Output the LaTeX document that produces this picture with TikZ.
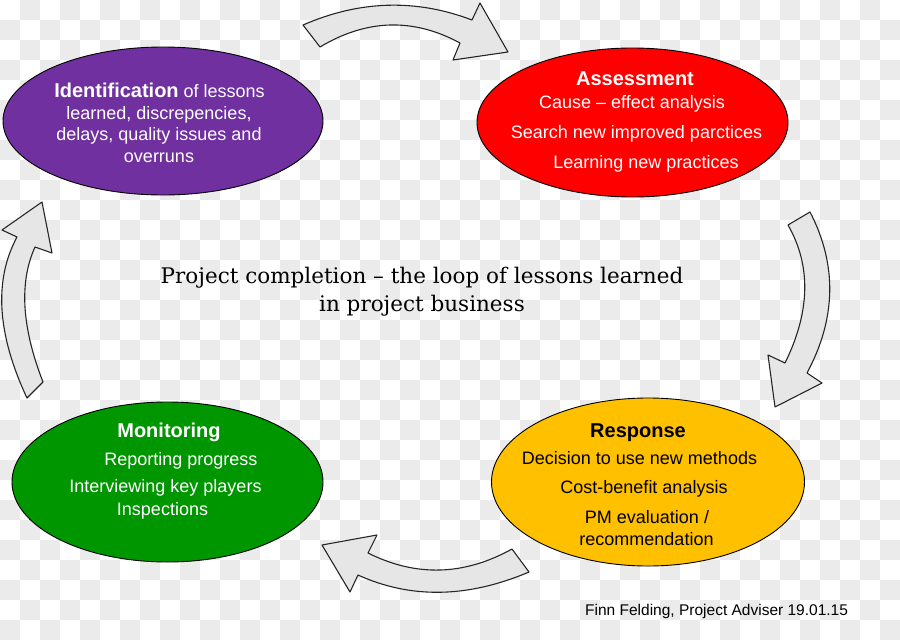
\documentclass[tikz,border=0pt]{standalone}
\usepackage{fontspec}
\setmainfont{Liberation Sans}
\newfontfamily\titlefont{DejaVu Serif}
\usetikzlibrary{shapes.geometric}
\definecolor{idpurple}{HTML}{7030A0}
\definecolor{asred}{HTML}{FF0000}
\definecolor{mogreen}{HTML}{009600}
\definecolor{reyellow}{HTML}{FFC000}
\definecolor{checkgray}{HTML}{EBEBEB}
\definecolor{arrowfill}{HTML}{E6E6E6}
\tikzset{
  bubble/.style={ellipse, draw=black, line width=0.9pt, inner sep=0pt},
  txt/.style={anchor=base, inner sep=0pt, font=\fontsize{18}{22}\selectfont},
  hd/.style={anchor=base, inner sep=0pt, font=\fontsize{20}{24}\selectfont\bfseries},
  blockarrow/.style={fill=arrowfill, draw=black!85, line width=1.1pt, line join=round},
}
\begin{document}
\begin{tikzpicture}[x=1pt,y=-1pt]
\useasboundingbox (0,0) rectangle (900,640);
\clip (0,0) rectangle (900,640);
\fill[white] (0,0) rectangle (900,640);
% checkerboard background
\foreach \i in {0,...,44}{
  \foreach \j in {0,...,31}{
    \pgfmathtruncatemacro\chkodd{mod(\i+\j,2)}
    \ifnum\chkodd=1 \fill[checkgray] (\i*20,\j*20) rectangle ++(20,20); \fi
  }
}
% block arrows
\draw[blockarrow] (303,25) .. controls (359.7,0.3) and (416,-1.3) .. (472,20) -- (480,3) -- (508,52) -- (453,60) -- (460,43)
  .. controls (413.3,17.7) and (366.7,19) .. (320,47) -- cycle;
\draw[blockarrow] (810,212) .. controls (837.3,264.7) and (836.3,318.3) .. (807,373) -- (822,383) -- (775,407) -- (768,355) -- (785,363)
  .. controls (810.3,311.7) and (811.3,265.7) .. (788,225) -- cycle;
\draw[blockarrow] (529,572) .. controls (467.7,598) and (410.7,599) .. (358,575) -- (350,592) -- (322,545) -- (377,535) -- (368,553)
  .. controls (416,577) and (464,575.7) .. (512,549) -- cycle;
\draw[blockarrow] (27,398) .. controls (-3,334) and (-6.3,280.3) .. (17,237) -- (2,230) -- (42,202) -- (52,253) -- (35,247)
  .. controls (19,282.3) and (21.7,327.3) .. (43,382) -- cycle;
% ellipses
\node[bubble, fill=idpurple, minimum width=320pt, minimum height=148pt] (ident) at (163,121) {};
\node[bubble, fill=asred, minimum width=311pt, minimum height=149pt] (assess) at (632.5,122.5) {};
\node[bubble, fill=mogreen, minimum width=311pt, minimum height=160pt] (monit) at (167.5,482) {};
\node[bubble, fill=reyellow, minimum width=313pt, minimum height=168pt] (resp) at (648,482) {};
% identification text
\node[txt, text=white] (id1) at (159.5,97) {{\fontsize{20}{24}\selectfont\bfseries Identification} of lessons};
\node[txt, text=white] (id2) at (159,119) {learned, discrepencies,};
\node[txt, text=white] (id3) at (159,140) {delays, quality issues and};
\node[txt, text=white] (id4) at (159,162) {overruns};
% assessment text
\node[hd, text=white] (as0) at (635,85) {Assessment};
\node[txt, text=white] (as1) at (632,108) {Cause – effect analysis};
\node[txt, text=white] (as2) at (636.5,138) {Search new improved parctices};
\node[txt, text=white] (as3) at (646,168) {Learning new practices};
% monitoring text
\node[hd, text=white] (mo0) at (169,437) {Monitoring};
\node[txt, text=white] (mo1) at (181,465) {Reporting progress};
\node[txt, text=white] (mo2) at (165.5,492) {Interviewing key players};
\node[txt, text=white] (mo3) at (162.5,515) {Inspections};
% response text
\node[hd, text=black] (re0) at (638,437) {Response};
\node[txt, text=black] (re1) at (639.5,464) {Decision to use new methods};
\node[txt, text=black] (re2) at (644,493) {Cost-benefit analysis};
\node[txt, text=black] (re3) at (647,523) {PM evaluation /};
\node[txt, text=black] (re4) at (646.5,545) {recommendation};
% title
\node[anchor=base, inner sep=0pt, font=\titlefont\fontsize{21.5}{25}\selectfont] (title1) at (422,283) {Project completion – the loop of lessons learned};
\node[anchor=base, inner sep=0pt, font=\titlefont\fontsize{21.5}{25}\selectfont] (title2) at (422,311) {in project business};
% footer
\node[anchor=base west, inner sep=0pt, font=\fontsize{15.5}{18}\selectfont] (footer) at (585,615) {Finn Felding, Project Adviser 19.01.15};
\end{tikzpicture}
\end{document}
